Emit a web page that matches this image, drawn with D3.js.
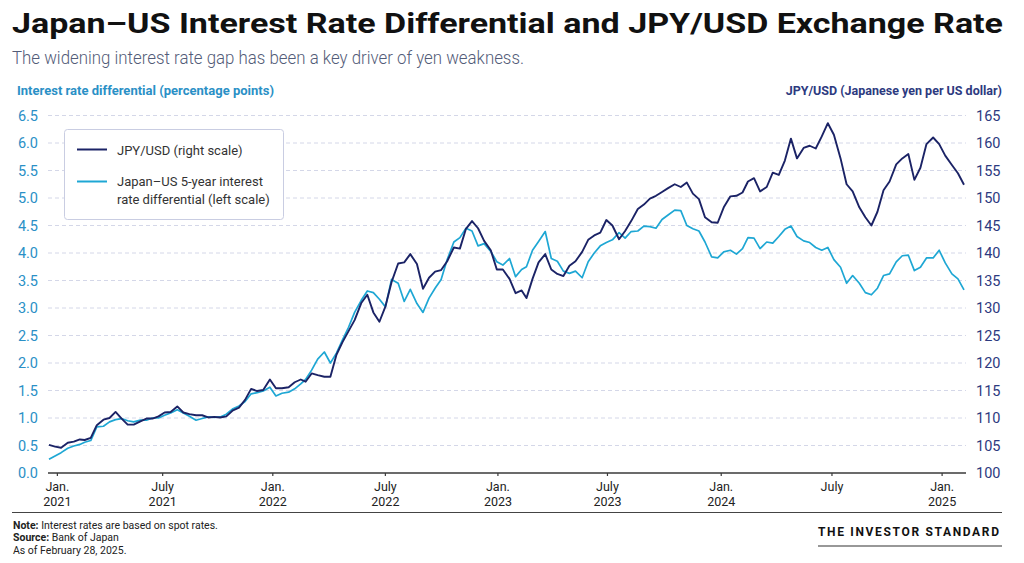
<!DOCTYPE html>
<html>
<head>
<meta charset="UTF-8">
<script src="https://d3js.org/d3.v7.min.js"></script>
<style>
  body { margin: 0; background: #fff; }
  svg text { font-family: Roboto, "Liberation Sans", Arial, sans-serif; }
  .grid line { stroke: #d4d7e8; stroke-dasharray: 4 3; stroke-width: 1; }
  .note { font-size: 10.5px; fill: #222; }
</style>
<title>Japan-US Interest Rate Differential and JPY/USD</title>
</head>
<body>
<svg id="chart" width="1024" height="563"></svg>
<script>
// observation dates (1st, 11th, 21st of each month)
const dates = [
  "2021-01-01","2021-01-11","2021-01-21","2021-02-01","2021-02-11","2021-02-21",
  "2021-03-01","2021-03-11","2021-03-21","2021-04-01","2021-04-11","2021-04-21",
  "2021-05-01","2021-05-11","2021-05-21","2021-06-01","2021-06-11","2021-06-21",
  "2021-07-01","2021-07-11","2021-07-21","2021-08-01","2021-08-11","2021-08-21",
  "2021-09-01","2021-09-11","2021-09-21","2021-10-01","2021-10-11","2021-10-21",
  "2021-11-01","2021-11-11","2021-11-21","2021-12-01","2021-12-11","2021-12-21",
  "2022-01-01","2022-01-11","2022-01-21","2022-02-01","2022-02-11","2022-02-21",
  "2022-03-01","2022-03-11","2022-03-21","2022-04-01","2022-04-11","2022-04-21",
  "2022-05-01","2022-05-11","2022-05-21","2022-06-01","2022-06-11","2022-06-21",
  "2022-07-01","2022-07-11","2022-07-21","2022-08-01","2022-08-11","2022-08-21",
  "2022-09-01","2022-09-11","2022-09-21","2022-10-01","2022-10-11","2022-10-21",
  "2022-11-01","2022-11-11","2022-11-21","2022-12-01","2022-12-11","2022-12-21",
  "2023-01-01","2023-01-11","2023-01-21","2023-02-01","2023-02-11","2023-02-21",
  "2023-03-01","2023-03-11","2023-03-21","2023-04-01","2023-04-11","2023-04-21",
  "2023-05-01","2023-05-11","2023-05-21","2023-06-01","2023-06-11","2023-06-21",
  "2023-07-01","2023-07-11","2023-07-21","2023-08-01","2023-08-11","2023-08-21",
  "2023-09-01","2023-09-11","2023-09-21","2023-10-01","2023-10-11","2023-10-21",
  "2023-11-01","2023-11-11","2023-11-21","2023-12-01","2023-12-11","2023-12-21",
  "2024-01-01","2024-01-11","2024-01-21","2024-02-01","2024-02-11","2024-02-21",
  "2024-03-01","2024-03-11","2024-03-21","2024-04-01","2024-04-11","2024-04-21",
  "2024-05-01","2024-05-11","2024-05-21","2024-06-01","2024-06-11","2024-06-21",
  "2024-07-01","2024-07-11","2024-07-21","2024-08-01","2024-08-11","2024-08-21",
  "2024-09-01","2024-09-11","2024-09-21","2024-10-01","2024-10-11","2024-10-21",
  "2024-11-01","2024-11-11","2024-11-21","2024-12-01","2024-12-11","2024-12-21",
  "2025-01-01","2025-01-11","2025-01-21","2025-02-01","2025-02-11","2025-02-21"
];

// JPY per USD (right scale)
const jpyUsd = [
  105.1, 104.8, 104.6, 105.5, 105.7, 106.1,
  106.0, 106.4, 108.7, 109.7, 110.0, 111.1,
  109.9, 108.8, 108.8, 109.4, 109.9, 109.9,
  110.3, 111.0, 111.1, 112.1, 111.0, 110.7,
  110.5, 110.5, 110.1, 110.2, 110.1, 110.3,
  111.4, 111.9, 113.3, 115.3, 114.9, 115.1,
  117.0, 115.4, 115.4, 115.6, 116.5, 117.0,
  116.6, 118.1, 117.8, 117.5, 117.5, 121.5,
  123.8, 125.8, 127.8, 130.9, 132.4, 129.2,
  127.5, 130.3, 134.7, 138.1, 138.3, 139.8,
  138.0, 133.5, 135.5, 136.6, 136.9, 138.5,
  141.0, 140.8, 144.4, 145.8, 144.5, 142.2,
  140.5, 137.0, 137.0, 135.3, 132.7, 133.2,
  131.8, 135.3, 138.3, 139.8, 137.0, 136.2,
  135.8, 137.7, 138.5, 140.2, 142.4, 143.2,
  143.7, 146.0, 145.0, 142.5, 144.0, 145.8,
  148.0, 148.8, 149.9, 150.4, 151.1, 151.8,
  152.5, 152.0, 152.8, 150.8, 149.8, 146.5,
  145.6, 145.5, 148.3, 150.3, 150.4, 151.0,
  153.0, 153.6, 151.2, 152.0, 154.6, 154.2,
  156.8, 160.8, 157.2, 159.1, 159.5, 159.0,
  161.2, 163.6, 161.5, 157.2, 152.5, 151.2,
  148.3, 146.5, 145.0, 147.5, 151.4, 153.0,
  156.1, 157.2, 158.0, 153.3, 155.5, 159.8,
  161.0, 159.8, 157.7, 156.0, 154.5, 152.4
];

// Japan-US 5-year interest rate differential, percentage points (left scale)
const rateDiff = [
  0.25, 0.31, 0.37, 0.45, 0.49, 0.52,
  0.56, 0.59, 0.84, 0.85, 0.93, 0.97,
  0.99, 0.95, 0.93, 0.96, 0.96, 1.00,
  1.00, 1.05, 1.09, 1.15, 1.09, 1.03,
  0.96, 0.99, 1.02, 1.01, 1.02, 1.07,
  1.17, 1.22, 1.30, 1.44, 1.46, 1.49,
  1.56, 1.40, 1.45, 1.47, 1.53, 1.62,
  1.70, 1.87, 2.07, 2.20, 2.00, 2.18,
  2.42, 2.65, 2.92, 3.14, 3.31, 3.28,
  3.16, 3.02, 3.52, 3.45, 3.12, 3.34,
  3.08, 2.92, 3.18, 3.36, 3.52, 3.88,
  4.20, 4.28, 4.45, 4.40, 4.13, 4.17,
  4.03, 3.84, 3.78, 3.90, 3.57, 3.70,
  3.75, 4.05, 4.21, 4.39, 3.90, 3.85,
  3.67, 3.63, 3.67, 3.55, 3.84, 4.00,
  4.13, 4.19, 4.24, 4.37, 4.27, 4.39,
  4.40, 4.49, 4.48, 4.45, 4.61, 4.69,
  4.78, 4.77, 4.50, 4.44, 4.40, 4.20,
  3.93, 3.91, 4.02, 4.05, 3.98, 4.08,
  4.28, 4.27, 4.08, 4.20, 4.18, 4.30,
  4.43, 4.49, 4.30, 4.22, 4.19, 4.10,
  4.05, 4.10, 3.88, 3.74, 3.45, 3.59,
  3.45, 3.28, 3.24, 3.36, 3.59, 3.62,
  3.84, 3.95, 3.96, 3.68, 3.74, 3.91,
  3.91, 4.05, 3.82, 3.62, 3.53, 3.33
];

const leftTicks = [0, 0.5, 1, 1.5, 2, 2.5, 3, 3.5, 4, 4.5, 5, 5.5, 6, 6.5];
const rightTicks = [100, 105, 110, 115, 120, 125, 130, 135, 140, 145, 150, 155, 160, 165];
const xTickDates = ["2021-01-14","2021-07-07","2022-01-05","2022-07-10","2023-01-12",
                    "2023-07-12","2024-01-16","2024-07-17","2025-01-15"];
const xTickLabels = [["Jan.","2021"],["July","2021"],["Jan.","2022"],["July","2022"],["Jan.","2023"],
                     ["July","2023"],["Jan.","2024"],["July",""],["Jan.","2025"]];

const navy = "#1b2366";
const cyan = "#1ea7d4";
const leftBlue = "#2a90c6";
const rightNavy = "#2d3a80";

const svg = d3.select("svg#chart");
const parse = d3.timeParse("%Y-%m-%d");

const data = dates.map((d, i) => ({ date: parse(d), jpy: jpyUsd[i], diff: rateDiff[i] }));

const x = d3.scaleTime()
  .domain([parse("2021-01-01"), parse("2025-02-21")])
  .range([49, 964]);
const yLeft = d3.scaleLinear().domain([0, 6.5]).range([473, 115.5]);
const yRight = d3.scaleLinear().domain([100, 165]).range([473, 115.5]);

// titles
svg.append("text")
  .attr("x", 12).attr("y", 33)
  .attr("textLength", 991).attr("lengthAdjust", "spacingAndGlyphs")
  .style("font-size", "28px").style("font-weight", 700).style("fill", "#111")
  .text("Japan\u2013US Interest Rate Differential and JPY/USD Exchange Rate");

svg.append("text")
  .attr("x", 12).attr("y", 64)
  .attr("textLength", 512).attr("lengthAdjust", "spacingAndGlyphs")
  .style("font-size", "17.5px").style("font-weight", 300).style("fill", "#535c78")
  .text("The widening interest rate gap has been a key driver of yen weakness.");

svg.append("text")
  .attr("x", 17).attr("y", 95)
  .attr("textLength", 257).attr("lengthAdjust", "spacingAndGlyphs")
  .style("font-size", "12.5px").style("font-weight", 700).style("fill", leftBlue)
  .text("Interest rate differential (percentage points)");

svg.append("text")
  .attr("x", 1002).attr("y", 95)
  .attr("text-anchor", "end")
  .style("font-size", "12.5px").style("font-weight", 700).style("fill", rightNavy)
  .text("JPY/USD (Japanese yen per US dollar)");

// gridlines
svg.append("g").attr("class", "grid")
  .selectAll("line")
  .data(leftTicks.filter(d => d > 0))
  .join("line")
  .attr("x1", 48).attr("x2", 966)
  .attr("y1", d => yLeft(d)).attr("y2", d => yLeft(d));

// left axis
const leftAxis = svg.append("g")
  .attr("transform", "translate(38,0)")
  .call(d3.axisLeft(yLeft).tickValues(leftTicks).tickFormat(d3.format(".1f")).tickSize(0).tickPadding(0));
leftAxis.select(".domain").remove();
leftAxis.selectAll("text")
  .style("font-size", "14.5px").style("fill", leftBlue).style("font-family", "Roboto, sans-serif");

// right axis
const rightAxis = svg.append("g")
  .attr("transform", "translate(976,0)")
  .call(d3.axisRight(yRight).tickValues(rightTicks).tickSize(0).tickPadding(0));
rightAxis.select(".domain").remove();
rightAxis.selectAll("text")
  .style("font-size", "14.5px").style("fill", rightNavy).style("font-family", "Roboto, sans-serif");

// x axis
const xAxis = svg.append("g")
  .attr("transform", "translate(0,473)")
  .call(d3.axisBottom(x).tickValues(xTickDates.map(parse)).tickSize(3).tickFormat(""));
xAxis.select(".domain")
  .attr("d", "M48,0H966")
  .attr("stroke", "#3a3a3a").attr("stroke-width", 1.6);
xAxis.selectAll(".tick line").attr("stroke", "#3a3a3a").attr("stroke-width", 1.2);
xAxis.selectAll(".tick text").remove();
xAxis.selectAll(".tick").each(function(d, i) {
  const tick = d3.select(this);
  tick.append("text").attr("x", 0).attr("y", 18)
    .attr("text-anchor", "middle").attr("fill", "#222").style("font-size", "12.5px")
    .text(xTickLabels[i][0]);
  tick.append("text").attr("x", 0).attr("y", 33)
    .attr("text-anchor", "middle").attr("fill", "#222").style("font-size", "12.5px")
    .text(xTickLabels[i][1]);
});

// lines
const diffLine = d3.line().x(d => x(d.date)).y(d => yLeft(d.diff));
const jpyLine = d3.line().x(d => x(d.date)).y(d => yRight(d.jpy));

svg.append("path").datum(data)
  .attr("fill", "none").attr("stroke", cyan).attr("stroke-width", 1.7)
  .attr("stroke-linejoin", "round").attr("d", diffLine);

svg.append("path").datum(data)
  .attr("fill", "none").attr("stroke", navy).attr("stroke-width", 1.9)
  .attr("stroke-linejoin", "round").attr("d", jpyLine);

// legend
const legend = svg.append("g");
legend.append("rect")
  .attr("x", 64.5).attr("y", 129.5).attr("width", 219).attr("height", 90).attr("rx", 3)
  .attr("fill", "#fff").attr("stroke", "#c9cde2").attr("stroke-width", 1);
legend.append("line").attr("x1", 77).attr("x2", 107).attr("y1", 149.5).attr("y2", 149.5)
  .attr("stroke", navy).attr("stroke-width", 2);
legend.append("line").attr("x1", 77).attr("x2", 107).attr("y1", 181.5).attr("y2", 181.5)
  .attr("stroke", cyan).attr("stroke-width", 2);
legend.append("text").attr("x", 117).attr("y", 154.5)
  .style("font-size", "13px").style("fill", "#333").text("JPY/USD (right scale)");
legend.append("text").attr("x", 117).attr("y", 186)
  .style("font-size", "13px").style("fill", "#333").text("Japan\u2013US 5-year interest");
legend.append("text").attr("x", 117).attr("y", 204)
  .style("font-size", "13px").style("fill", "#333").text("rate differential (left scale)");

// footer
svg.append("line").attr("x1", 12).attr("x2", 1002).attr("y1", 512.5).attr("y2", 512.5)
  .attr("stroke", "#444").attr("stroke-width", 1.2);

const n1 = svg.append("text").attr("class", "note").attr("x", 13).attr("y", 528.5);
n1.append("tspan").style("font-weight", 700).text("Note:");
n1.append("tspan").text(" Interest rates are based on spot rates.");
const n2 = svg.append("text").attr("class", "note").attr("x", 13).attr("y", 541);
n2.append("tspan").style("font-weight", 700).text("Source:");
n2.append("tspan").text(" Bank of Japan");
svg.append("text").attr("class", "note").attr("x", 13).attr("y", 553.5).text("As of February 28, 2025.");

svg.append("text")
  .attr("x", 818).attr("y", 536)
  .attr("textLength", 184).attr("lengthAdjust", "spacing")
  .style("font-size", "12px").style("font-weight", 700).style("fill", "#111")
  .style("letter-spacing", "3px")
  .text("THE INVESTOR STANDARD");
svg.append("line").attr("x1", 818).attr("x2", 1002).attr("y1", 546).attr("y2", 546)
  .attr("stroke", "#333").attr("stroke-width", 1.2);
</script>
</body>
</html>
